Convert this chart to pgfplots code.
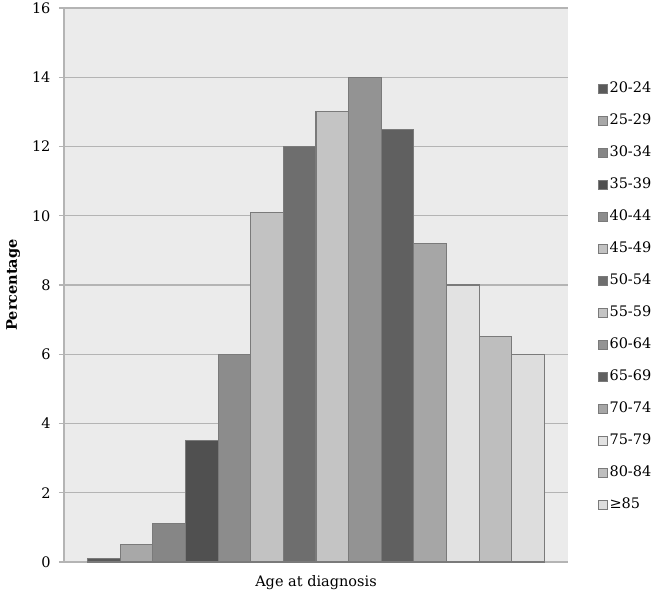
\documentclass[border=0pt]{standalone}
\usepackage{pgfplots}
\pgfplotsset{compat=1.18}
\usepackage{fontspec}
\setmainfont{DejaVu Serif}
\usetikzlibrary{calc}
\definecolor{bgGray}{HTML}{EBEBEB}
\definecolor{gridGray}{HTML}{B4B4B4}
\definecolor{edgeGray}{HTML}{7A7A7A}
\definecolor{cA}{HTML}{5A5A5A}
\definecolor{cB}{HTML}{A8A8A8}
\definecolor{cC}{HTML}{868686}
\definecolor{cD}{HTML}{505050}
\definecolor{cE}{HTML}{8C8C8C}
\definecolor{cF}{HTML}{C2C2C2}
\definecolor{cG}{HTML}{6E6E6E}
\definecolor{cH}{HTML}{C4C4C4}
\definecolor{cI}{HTML}{939393}
\definecolor{cJ}{HTML}{606060}
\definecolor{cK}{HTML}{A6A6A6}
\definecolor{cL}{HTML}{E2E2E2}
\definecolor{cM}{HTML}{BEBEBE}
\definecolor{cN}{HTML}{DDDDDD}

\begin{document}
\begin{tikzpicture}[font=\fontsize{14.5bp}{17bp}\selectfont]
\begin{axis}[scale only axis, width=504bp, height=554bp,
  xmin=-0.22, xmax=15.22, ymin=0, ymax=16,
  ytick={0,2,...,16}, xtick=\empty,
  axis x line*=bottom, axis y line*=left,
  axis line style={gridGray, line width=1.2pt},
  tick align=outside, major tick length=5bp,
  y tick style={gridGray, line width=1.2pt},
  ymajorgrids, grid style={gridGray, line width=1.2pt},
  axis background/.style={fill=bgGray},
  /pgf/number format/assume math mode=true,
  yticklabel style={font=\fontsize{14.5bp}{17bp}\selectfont, xshift=-5bp},
  xlabel={Age at diagnosis}, ylabel={\bfseries Percentage},
  xlabel style={yshift=-5bp},
  ylabel style={yshift=5bp},
  every axis plot/.append style={ybar, bar width=1, bar shift=0pt, draw=edgeGray, line width=1.1pt},
  legend image code/.code={\draw[#1, line width=0.6pt] (0bp,-4.5bp) rectangle (9bp,4.5bp);},
  legend style={draw=none, fill=none, inner sep=0pt, at={(1.06,0.479)}, anchor=west,
    legend cell align=left, row sep=17bp,
    nodes={inner sep=1.5bp, text height=10bp, text depth=2bp, font=\fontsize{14.5bp}{17bp}\selectfont}},
]
\coordinate (O) at (rel axis cs:0,0);
\addplot[fill=cA] coordinates {(1,0.1)};  \addlegendentry{20-24}
\addplot[fill=cB] coordinates {(2,0.5)};  \addlegendentry{25-29}
\addplot[fill=cC] coordinates {(3,1.1)};  \addlegendentry{30-34}
\addplot[fill=cD] coordinates {(4,3.5)};  \addlegendentry{35-39}
\addplot[fill=cE] coordinates {(5,6.0)};  \addlegendentry{40-44}
\addplot[fill=cF] coordinates {(6,10.1)}; \addlegendentry{45-49}
\addplot[fill=cG] coordinates {(7,12.0)}; \addlegendentry{50-54}
\addplot[fill=cH] coordinates {(8,13.0)}; \addlegendentry{55-59}
\addplot[fill=cI] coordinates {(9,14.0)}; \addlegendentry{60-64}
\addplot[fill=cJ] coordinates {(10,12.5)}; \addlegendentry{65-69}
\addplot[fill=cK] coordinates {(11,9.2)}; \addlegendentry{70-74}
\addplot[fill=cL] coordinates {(12,8.0)}; \addlegendentry{75-79}
\addplot[fill=cM] coordinates {(13,6.5)}; \addlegendentry{80-84}
\addplot[fill=cN] coordinates {(14,6.0)}; \addlegendentry{≥85}
\end{axis}
\pgfresetboundingbox
\path[use as bounding box] ($(O)+(-64bp,-34bp)$) rectangle ++(658bp,596bp);
\end{tikzpicture}
\end{document}
